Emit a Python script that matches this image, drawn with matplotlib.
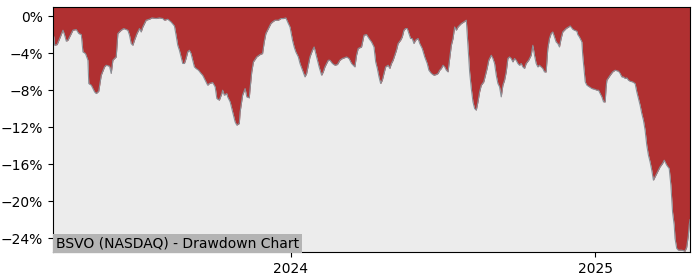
import matplotlib
matplotlib.use("Agg")
import matplotlib.pyplot as plt
import matplotlib.dates as mdates
from matplotlib.ticker import MultipleLocator, PercentFormatter
import pandas as pd

# drawdown values (percent)
dates = [
    "2023-03-21", "2023-03-22", "2023-03-23", "2023-03-26", "2023-03-29", "2023-04-02", "2023-04-04",
    "2023-04-06", "2023-04-08", "2023-04-11", "2023-04-14", "2023-04-18", "2023-04-21", "2023-04-24",
    "2023-04-26", "2023-04-29", "2023-05-02", "2023-05-03", "2023-05-06", "2023-05-10", "2023-05-12",
    "2023-05-15", "2023-05-18", "2023-05-22", "2023-05-24", "2023-05-28", "2023-05-30", "2023-06-01",
    "2023-06-03", "2023-06-05", "2023-06-07", "2023-06-11", "2023-06-14", "2023-06-19", "2023-06-21",
    "2023-06-23", "2023-06-25", "2023-06-27", "2023-06-30", "2023-07-03", "2023-07-05", "2023-07-07",
    "2023-07-11", "2023-07-15", "2023-07-18", "2023-07-23", "2023-07-27", "2023-07-31", "2023-08-02",
    "2023-08-06", "2023-08-10", "2023-08-14", "2023-08-16", "2023-08-18", "2023-08-20", "2023-08-22",
    "2023-08-24", "2023-08-26", "2023-08-28", "2023-08-30", "2023-09-01", "2023-09-03", "2023-09-05",
    "2023-09-07", "2023-09-09", "2023-09-12", "2023-09-15", "2023-09-17", "2023-09-21", "2023-09-23",
    "2023-09-25", "2023-09-29", "2023-10-02", "2023-10-04", "2023-10-07", "2023-10-10", "2023-10-11",
    "2023-10-13", "2023-10-16", "2023-10-17", "2023-10-20", "2023-10-22", "2023-10-24", "2023-10-26",
    "2023-10-28", "2023-10-31", "2023-11-01", "2023-11-04", "2023-11-07", "2023-11-09", "2023-11-12",
    "2023-11-13", "2023-11-15", "2023-11-17", "2023-11-21", "2023-11-25", "2023-11-28", "2023-11-30",
    "2023-12-02", "2023-12-05", "2023-12-08", "2023-12-10", "2023-12-13", "2023-12-17", "2023-12-20",
    "2023-12-23", "2023-12-26", "2023-12-29", "2023-12-31", "2024-01-03", "2024-01-05", "2024-01-07",
    "2024-01-10", "2024-01-12", "2024-01-15", "2024-01-18", "2024-01-20", "2024-01-22", "2024-01-24",
    "2024-01-27", "2024-01-29", "2024-01-31", "2024-02-02", "2024-02-04", "2024-02-07", "2024-02-09",
    "2024-02-11", "2024-02-13", "2024-02-15", "2024-02-17", "2024-02-20", "2024-02-23", "2024-02-26",
    "2024-02-29", "2024-03-03", "2024-03-05", "2024-03-08", "2024-03-11", "2024-03-14", "2024-03-16",
    "2024-03-18", "2024-03-20", "2024-03-22", "2024-03-26", "2024-03-29", "2024-04-01", "2024-04-04",
    "2024-04-07", "2024-04-10", "2024-04-12", "2024-04-14", "2024-04-16", "2024-04-18", "2024-04-20",
    "2024-04-22", "2024-04-24", "2024-04-27", "2024-04-29", "2024-05-01", "2024-05-03", "2024-05-05",
    "2024-05-07", "2024-05-09", "2024-05-12", "2024-05-14", "2024-05-16", "2024-05-18", "2024-05-20",
    "2024-05-22", "2024-05-24", "2024-05-26", "2024-05-28", "2024-05-30", "2024-06-02", "2024-06-04",
    "2024-06-07", "2024-06-10", "2024-06-13", "2024-06-15", "2024-06-18", "2024-06-21", "2024-06-24",
    "2024-06-26", "2024-06-28", "2024-06-30", "2024-07-02", "2024-07-04", "2024-07-06", "2024-07-08",
    "2024-07-10", "2024-07-12", "2024-07-14", "2024-07-16", "2024-07-18", "2024-07-20", "2024-07-22",
    "2024-07-24", "2024-07-27", "2024-07-30", "2024-08-01", "2024-08-03", "2024-08-05", "2024-08-07",
    "2024-08-09", "2024-08-11", "2024-08-13", "2024-08-15", "2024-08-17", "2024-08-20", "2024-08-22",
    "2024-08-24", "2024-08-26", "2024-08-29", "2024-08-31", "2024-09-02", "2024-09-04", "2024-09-06",
    "2024-09-08", "2024-09-10", "2024-09-12", "2024-09-14", "2024-09-16", "2024-09-18", "2024-09-20",
    "2024-09-22", "2024-09-24", "2024-09-26", "2024-09-28", "2024-09-30", "2024-10-02", "2024-10-04",
    "2024-10-06", "2024-10-08", "2024-10-10", "2024-10-13", "2024-10-16", "2024-10-18", "2024-10-20",
    "2024-10-22", "2024-10-24", "2024-10-26", "2024-10-30", "2024-11-01", "2024-11-03", "2024-11-05",
    "2024-11-07", "2024-11-09", "2024-11-11", "2024-11-13", "2024-11-15", "2024-11-17", "2024-11-19",
    "2024-11-21", "2024-11-23", "2024-11-27", "2024-11-30", "2024-12-02", "2024-12-05", "2024-12-07",
    "2024-12-10", "2024-12-11", "2024-12-13", "2024-12-16", "2024-12-17", "2024-12-20", "2024-12-22",
    "2024-12-25", "2024-12-28", "2024-12-31", "2025-01-03", "2025-01-05", "2025-01-07", "2025-01-09",
    "2025-01-11", "2025-01-13", "2025-01-14", "2025-01-15", "2025-01-19", "2025-01-22", "2025-01-25",
    "2025-01-29", "2025-01-31", "2025-02-02", "2025-02-04", "2025-02-06", "2025-02-08", "2025-02-10",
    "2025-02-12", "2025-02-15", "2025-02-18", "2025-02-20", "2025-02-22", "2025-02-24", "2025-02-26",
    "2025-02-28", "2025-03-02", "2025-03-04", "2025-03-06", "2025-03-08", "2025-03-10", "2025-03-12",
    "2025-03-14", "2025-03-16", "2025-03-18", "2025-03-20", "2025-03-23", "2025-03-25", "2025-03-26",
    "2025-03-28", "2025-03-31", "2025-04-02", "2025-04-03", "2025-04-04", "2025-04-06", "2025-04-07",
    "2025-04-09", "2025-04-11", "2025-04-15", "2025-04-19", "2025-04-21", "2025-04-23", "2025-04-24",
    "2025-04-25",
]
drawdown = [
    -1.9, -2.24, -3.14, -3.06, -2.41, -1.51, -2.05,
    -2.70, -2.59, -2.05, -1.51, -1.44, -1.87, -1.98,
    -3.86, -4.03, -4.76, -7.28, -7.46, -8.18, -8.36,
    -8.11, -6.38, -5.48, -5.30, -5.41, -6.19, -4.76,
    -4.57, -4.40, -1.87, -1.51, -1.33, -1.51, -2.05,
    -2.95, -3.14, -2.59, -1.87, -1.33, -1.70, -1.16,
    -0.43, -0.32, -0.18, -0.25, -0.18, -0.25, -0.43,
    -0.32, -0.62, -1.05, -2.05, -3.14, -3.68, -4.40,
    -5.11, -5.11, -4.57, -3.86, -3.68, -4.03, -4.76,
    -5.48, -5.65, -5.84, -6.19, -6.38, -7.10, -7.46,
    -7.28, -7.17, -7.64, -8.90, -9.08, -8.36, -8.00,
    -8.54, -8.36, -8.72, -9.26, -9.98, -10.70, -11.43,
    -11.78, -11.60, -10.35, -8.54, -7.82, -8.72, -8.83,
    -7.82, -6.02, -4.94, -4.40, -4.14, -4.03, -2.78,
    -1.87, -1.33, -0.79, -0.62, -0.43, -0.43, -0.25,
    -0.25, -0.18, -0.79, -1.16, -2.59, -3.32, -3.86,
    -4.40, -5.11, -5.84, -6.56, -6.19, -5.30, -4.40,
    -3.68, -3.32, -4.03, -4.76, -5.48, -6.38, -6.02,
    -5.48, -5.11, -4.76, -4.76, -5.11, -5.30, -5.22,
    -4.76, -4.57, -4.51, -4.40, -4.57, -5.11, -5.30,
    -5.48, -4.22, -3.49, -3.32, -2.05, -1.98, -2.41,
    -2.78, -3.32, -4.94, -5.65, -6.56, -7.28, -6.92,
    -6.19, -5.48, -5.30, -5.65, -5.11, -4.76, -4.22,
    -3.68, -2.95, -2.59, -2.24, -1.51, -1.33, -1.33,
    -1.87, -2.41, -2.41, -2.95, -2.59, -2.41, -2.95,
    -3.49, -4.40, -5.11, -5.84, -6.19, -6.38, -6.30,
    -6.19, -5.84, -5.65, -5.30, -5.48, -5.84, -6.02,
    -4.57, -3.14, -2.41, -1.16, -1.51, -1.16, -0.97,
    -0.79, -0.62, -0.43, -3.14, -6.02, -7.82, -9.26,
    -9.98, -10.16, -9.26, -8.18, -7.46, -7.10, -6.38,
    -5.65, -4.76, -4.22, -4.57, -5.11, -6.38, -7.28,
    -7.64, -8.72, -7.46, -6.92, -6.02, -4.57, -4.40,
    -4.57, -4.94, -4.57, -4.76, -5.11, -5.30, -5.11,
    -5.48, -5.65, -5.11, -4.76, -4.22, -3.14, -4.22,
    -5.11, -5.48, -5.30, -5.65, -6.02, -6.02, -3.49,
    -2.41, -1.87, -1.70, -2.24, -2.78, -2.95, -3.32,
    -2.41, -1.70, -1.33, -1.16, -1.05, -1.41, -1.51,
    -1.62, -1.98, -2.24, -2.78, -4.22, -7.10, -7.46,
    -7.64, -7.82, -7.89, -8.00, -8.00, -8.36, -8.72,
    -9.26, -9.26, -7.82, -6.92, -6.38, -6.02, -5.84,
    -5.95, -6.19, -6.56, -6.56, -6.74, -6.67, -6.92,
    -7.03, -7.10, -7.28, -8.18, -8.90, -9.62, -10.52,
    -11.24, -12.32, -13.95, -15.03, -15.75, -16.65, -17.73,
    -17.37, -17.01, -16.65, -16.29, -15.92, -15.57, -15.75,
    -16.11, -16.47, -18.27, -19.71, -21.16, -22.59, -24.03,
    -25.11, -25.30, -25.30, -25.41, -25.0, -23.68, -22.59,
    -22.0,
]
title = "BSVO (NASDAQ) - Drawdown Chart"

x = pd.to_datetime(dates)
ymin, ymax = -25.5, 1.0

fig = plt.figure(figsize=(7, 2.8), dpi=100)
ax = fig.add_axes([53 / 700, 28 / 280, 637 / 700, 245 / 280])
ax.set_facecolor("#b03031")

ax.fill_between(x, drawdown, ymin, color="#ececec", lw=0)
ax.plot(x, drawdown, color="#8a8f96", lw=0.8)

ax.set_xlim(x[0], x[-1])
ax.set_ylim(ymin, ymax)
ax.yaxis.set_major_locator(MultipleLocator(4))
ax.yaxis.set_major_formatter(PercentFormatter(decimals=0))
ax.xaxis.set_major_locator(mdates.YearLocator())
ax.xaxis.set_major_formatter(mdates.DateFormatter("%Y"))
ax.tick_params(labelsize=10)

ax.text(0.005, 0.006, title, transform=ax.transAxes, fontsize=10, va="bottom", ha="left",
        bbox=dict(facecolor="#b4b4b4", edgecolor="none", pad=2))

fig.savefig("out.png", dpi=100)
